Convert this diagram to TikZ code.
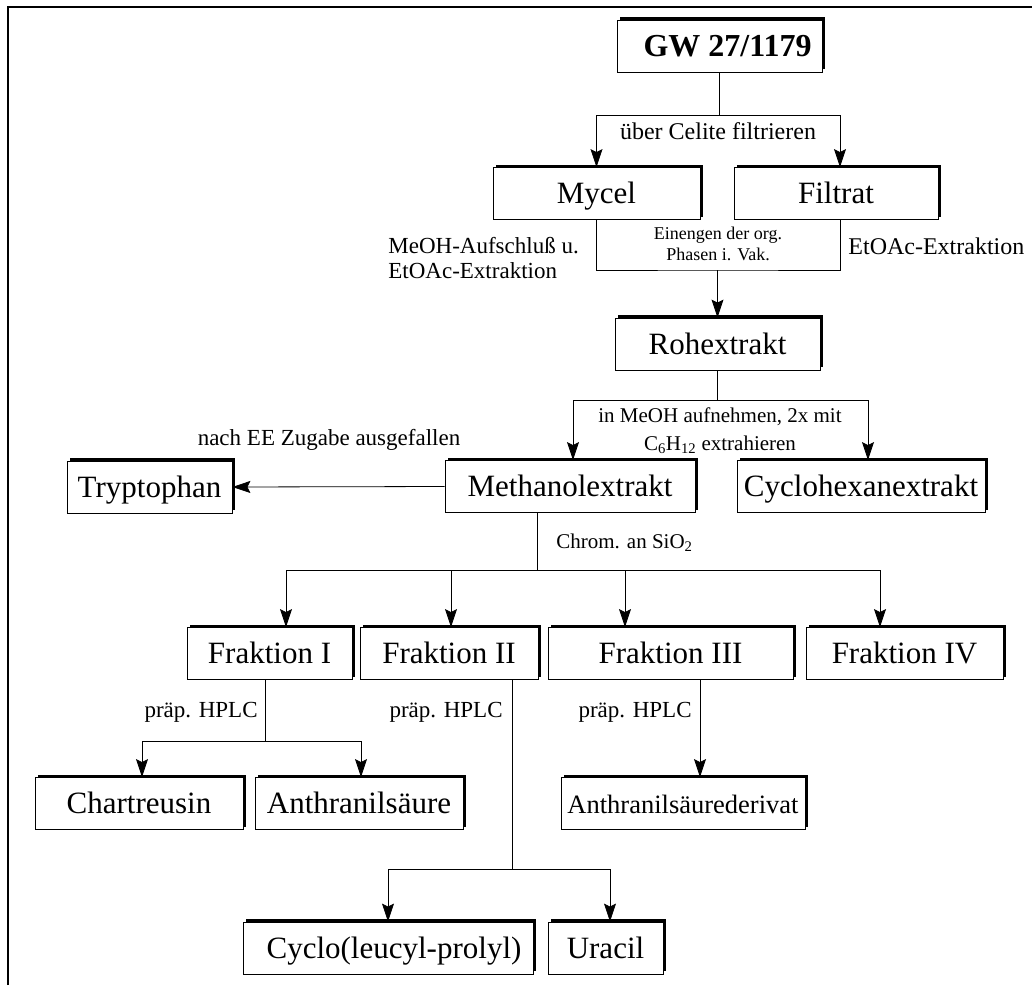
\documentclass[tikz,border=0pt]{standalone}
\usepackage{fontspec}
\setmainfont{Liberation Serif}
\usetikzlibrary{arrows.meta,shadows}

\begin{document}
\begin{tikzpicture}[x=1pt, y=-1pt, line width=0.8pt,
		stufe/.style={rectangle, draw, fill=white, inner sep=0pt, minimum height=52pt,
			text height=24pt, text depth=4pt,
			font=\fontsize{31}{36}\selectfont,
			general shadow={fill=black, shadow xshift=2.6pt, shadow yshift=2.6pt}},
		notiz/.style={inner sep=0pt, font=\fontsize{23}{27}\selectfont},
		pfeil/.style={-{Stealth[length=18pt, width=12pt, inset=3pt]}}]

	\useasboundingbox (0,0) rectangle (1032,985);

	% Rahmen
	\draw[line width=1.8pt] (8,985) -- (8,7) -- (1032,7);

	% Kästen
	\node[stufe, minimum width=205pt, font=\fontsize{32}{36}\selectfont\bfseries] (gw) at (719.5,46) {\hspace*{16pt}GW 27/1179};
	\node[stufe, minimum width=207pt] (mycel) at (596.5,193.5) {Mycel};
	\node[stufe, minimum width=204pt] (filtrat) at (836,193.5) {Filtrat};
	\node[stufe, minimum width=205pt] (roh) at (717.5,344) {Rohextrakt};
	\node[stufe, minimum width=250pt] (meoh) at (570,486.5) {Methanolextrakt};
	\node[stufe, minimum width=165pt] (tryp) at (149.5,487) {Tryptophan};
	\node[stufe, minimum width=248pt] (chex) at (861,486.5) {Cyclohexanextrakt};
	\node[stufe, minimum width=165pt] (frak1) at (269.5,653.5) {Fraktion I};
	\node[stufe, minimum width=178pt] (frak2) at (449,653.5) {Fraktion II};
	\node[stufe, minimum width=245pt] (frak3) at (670.5,653.5) {Fraktion III};
	\node[stufe, minimum width=197pt] (frak4) at (904.5,653.5) {Fraktion IV};
	\node[stufe, minimum width=208pt] (chart) at (139,803.5) {Chartreusin};
	\node[stufe, minimum width=208pt] (anth) at (359,803.5) {Anthranilsäure};
	\node[stufe, minimum width=244pt, font=\fontsize{26.5}{30}\selectfont] (deriv) at (683,803.5) {Anthranilsäurederivat};
	\node[stufe, minimum width=290pt] (cyclo) at (388,948) {\hspace*{12pt}Cyclo(leucyl-prolyl)};
	\node[stufe, minimum width=115pt] (uracil) at (605.5,948) {Uracil};

	% Verzweigungen
	\coordinate (j1) at (719.5,115);
	\coordinate (j2) at (717.5,270);
	\coordinate (j3) at (717.5,400);
	\coordinate (j4) at (537,570);
	\coordinate (j5) at (265,741);
	\coordinate (j6) at (512,869);

	\draw (gw.south) -- (j1);
	\draw[pfeil] (j1) -| (mycel.north);
	\draw[pfeil] (j1) -| ([xshift=4pt]filtrat.north);

	\draw (mycel.south) |- (j2) -| ([xshift=4pt]filtrat.south);
	\draw[pfeil] (j2) -- (roh.north);

	\draw (roh.south) -- (j3);
	\draw[pfeil] (j3) -| ([xshift=3pt]meoh.north);
	\draw[pfeil] (j3) -| ([xshift=7pt]chex.north);

	\draw[pfeil] (meoh.west) -- (tryp.east);

	\draw ([xshift=-33pt]meoh.south) -- (j4);
	\draw[pfeil] (j4) -| ([xshift=16.5pt]frak1.north);
	\draw[pfeil] (j4) -| ([xshift=2pt]frak2.north);
	\draw[pfeil] (j4) -| ([xshift=-45.5pt]frak3.north);
	\draw[pfeil] (j4) -| ([xshift=-24.5pt]frak4.north);

	\draw ([xshift=-4.5pt]frak1.south) -- (j5);
	\draw[pfeil] (j5) -| ([xshift=3pt]chart.north);
	\draw[pfeil] (j5) -| ([xshift=2pt]anth.north);

	\draw ([xshift=63pt]frak2.south) -- (j6);
	\draw[pfeil] (j6) -| (cyclo.north);
	\draw[pfeil] (j6) -| ([xshift=4.5pt]uracil.north);

	\draw[pfeil] ([xshift=29.5pt]frak3.south) -- ([xshift=29.5pt]frak3.south |- deriv.north);

	% Beschriftungen
	\node[notiz, font=\fontsize{24}{27}\selectfont] (l1) at (718,131) {über Celite filtrieren};
	\node[notiz, anchor=west, align=left, font=\fontsize{23}{25}\selectfont] (l2) at (388,258) {MeOH-Aufschluß u.\\EtOAc-Extraktion};
	\node[notiz, align=center, font=\fontsize{18}{21}\selectfont] (l3) at (718,244) {Einengen der org.\\Phasen i. Vak.};
	\node[notiz, anchor=west, font=\fontsize{24}{27}\selectfont] (l4) at (848,246) {EtOAc-Extraktion};
	\node[notiz, align=center, font=\fontsize{21}{28}\selectfont] (l5) at (720,431) {in MeOH aufnehmen, 2x mit\\C\textsubscript{6}H\textsubscript{12} extrahieren};
	\node[notiz] (l6) at (329,440) {nach EE Zugabe ausgefallen};
	\node[notiz, anchor=west, font=\fontsize{21}{25}\selectfont] (l7) at (556,543) {Chrom. an SiO\textsubscript{2}};
	\node[notiz, anchor=east] (l8) at (258,712) {präp. HPLC};
	\node[notiz, anchor=east] (l9) at (503,712) {präp. HPLC};
	\node[notiz, anchor=east] (l10) at (692,712) {präp. HPLC};

\end{tikzpicture}
\end{document}
